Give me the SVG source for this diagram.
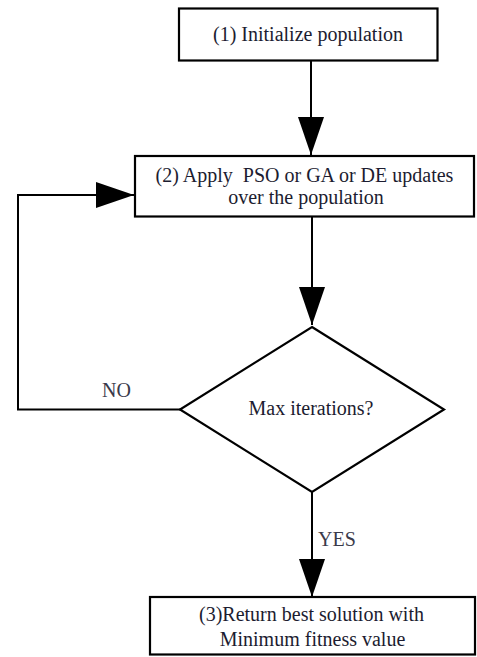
<svg xmlns="http://www.w3.org/2000/svg" width="477" height="657" viewBox="0 0 477 657">
<style>
.box{fill:#fff;stroke:#000;stroke-width:2.2}
.t{font-family:"Liberation Serif","Times New Roman",serif;font-size:20px;fill:#1c1c30;text-anchor:middle;white-space:pre}
.lbl{font-family:"Liberation Serif","Times New Roman",serif;font-size:20px;fill:#3a3a4a}
.conn{fill:none;stroke:#000;stroke-width:2}
</style>
<defs>
<marker id="ah" markerUnits="userSpaceOnUse" markerWidth="38" markerHeight="26" refX="38" refY="13" orient="auto">
<path d="M0,0 L38,13 L0,26 Z" fill="#000"/>
</marker>
</defs>
<rect width="477" height="657" fill="#fff"/>
<g id="connectors">
<line class="conn" x1="311" y1="61" x2="311" y2="155" marker-end="url(#ah)"/>
<line class="conn" x1="312" y1="217" x2="312" y2="325" marker-end="url(#ah)"/>
<line class="conn" x1="312" y1="492" x2="312" y2="597" marker-end="url(#ah)"/>
<polyline class="conn" points="180,409.5 18,409.5 18,195 134,195" marker-end="url(#ah)"/>
<text class="lbl" x="102" y="397">NO</text>
<text class="lbl" x="318" y="546">YES</text>
</g>
<g id="node1">
<rect class="box" x="179" y="8.5" width="258.5" height="52"/>
<text class="t" x="308" y="40.5">(1) Initialize population</text>
</g>
<g id="node2">
<rect class="box" x="135" y="156" width="339" height="60.5"/>
<text class="t" x="304.5" y="181.5" xml:space="preserve">(2) Apply  PSO or GA or DE updates</text>
<text class="t" x="306" y="203.5">over the population</text>
</g>
<g id="decision">
<polygon class="box" points="312,327 444,409.5 312,492 180,409.5"/>
<text class="t" x="311" y="415">Max iterations?</text>
</g>
<g id="node3">
<rect class="box" x="150" y="597" width="325" height="57.5"/>
<text class="t" x="311.5" y="620.5">(3)Return best solution with</text>
<text class="t" x="312.5" y="645.5">Minimum fitness value</text>
</g>
</svg>
